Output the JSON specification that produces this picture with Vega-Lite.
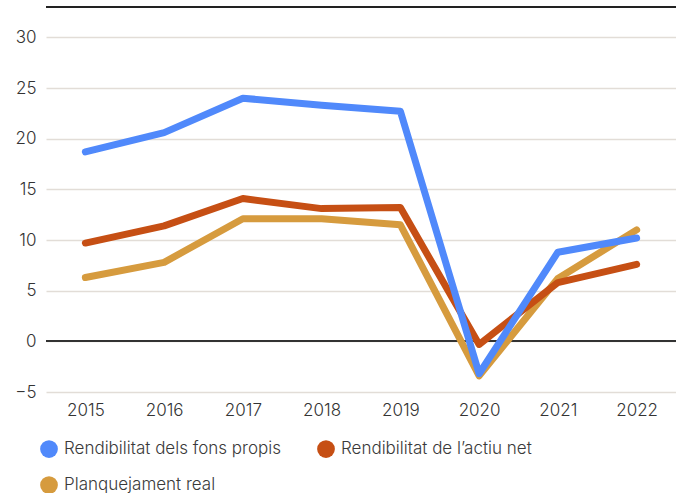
{
  "$schema": "https://vega.github.io/schema/vega-lite/v6.json",
  "width": 630,
  "height": 385,
  "autosize": "none",
  "padding": {"left": 46, "top": 7, "right": 0, "bottom": 101},
  "config": {"view": {"stroke": null}, "font": "Inter", "background": "white"},
  "data": {"values": [
    {"year": "2015", "series": "Planquejament real", "value": 6.3},
    {"year": "2016", "series": "Planquejament real", "value": 7.8},
    {"year": "2017", "series": "Planquejament real", "value": 12.1},
    {"year": "2018", "series": "Planquejament real", "value": 12.1},
    {"year": "2019", "series": "Planquejament real", "value": 11.5},
    {"year": "2020", "series": "Planquejament real", "value": -3.4},
    {"year": "2021", "series": "Planquejament real", "value": 6.2},
    {"year": "2022", "series": "Planquejament real", "value": 11.0},
    {"year": "2015", "series": "Rendibilitat de l’actiu net", "value": 9.7},
    {"year": "2016", "series": "Rendibilitat de l’actiu net", "value": 11.4},
    {"year": "2017", "series": "Rendibilitat de l’actiu net", "value": 14.1},
    {"year": "2018", "series": "Rendibilitat de l’actiu net", "value": 13.1},
    {"year": "2019", "series": "Rendibilitat de l’actiu net", "value": 13.2},
    {"year": "2020", "series": "Rendibilitat de l’actiu net", "value": -0.3},
    {"year": "2021", "series": "Rendibilitat de l’actiu net", "value": 5.8},
    {"year": "2022", "series": "Rendibilitat de l’actiu net", "value": 7.6},
    {"year": "2015", "series": "Rendibilitat dels fons propis", "value": 18.7},
    {"year": "2016", "series": "Rendibilitat dels fons propis", "value": 20.6},
    {"year": "2017", "series": "Rendibilitat dels fons propis", "value": 24.0},
    {"year": "2018", "series": "Rendibilitat dels fons propis", "value": 23.3},
    {"year": "2019", "series": "Rendibilitat dels fons propis", "value": 22.7},
    {"year": "2020", "series": "Rendibilitat dels fons propis", "value": -3.2},
    {"year": "2021", "series": "Rendibilitat dels fons propis", "value": 8.8},
    {"year": "2022", "series": "Rendibilitat dels fons propis", "value": 10.2}
  ]},
  "layer": [
    {
      "mark": {"type": "rule", "color": "#222222", "strokeWidth": 1},
      "encoding": {"y": {"datum": 33}}
    },
    {
      "mark": {"type": "rule", "color": "#333333", "strokeWidth": 1.5},
      "encoding": {"y": {"datum": 0}}
    },
    {
      "mark": {"type": "line", "strokeWidth": 7, "strokeCap": "round", "strokeJoin": "round"},
      "encoding": {
        "x": {
          "field": "year", "type": "ordinal",
          "scale": {"type": "point", "padding": 0.5},
          "axis": {"title": null, "labelAngle": 0, "domain": false, "ticks": false, "labelPadding": 10, "labelFontSize": 17, "labelFontWeight": 300, "labelColor": "#333333", "grid": false}
        },
        "y": {
          "field": "value", "type": "quantitative",
          "scale": {"domain": [-5, 33], "nice": false, "zero": false},
          "axis": {"title": null, "values": [-5, 0, 5, 10, 15, 20, 25, 30], "domain": false, "ticks": false, "labelPadding": 10, "labelFontSize": 17, "labelFontWeight": 300, "labelColor": "#333333", "grid": true, "gridColor": "#e2ddd7", "gridWidth": 1.5}
        },
        "color": {
          "field": "series", "type": "nominal",
          "scale": {
            "domain": ["Rendibilitat dels fons propis", "Planquejament real", "Rendibilitat de l’actiu net"],
            "range": ["#5089fb", "#d69b3e", "#c64f14"]
          },
          "legend": {
            "title": null, "orient": "none", "legendX": -6, "legendY": 433,
            "columns": 2, "columnPadding": 36, "rowPadding": 18,
            "symbolType": "circle", "symbolSize": 314, "symbolStrokeWidth": 0, "symbolOpacity": 1,
            "labelFontSize": 17, "labelFontWeight": 300, "labelColor": "#3a3a3a", "labelOffset": 6, "labelLimit": 0,
            "encode": {"symbols": {"update": {"fill": {"scale": "color", "field": "value"}, "fillOpacity": {"value": 1}}}}
          }
        }
      }
    }
  ]
}
